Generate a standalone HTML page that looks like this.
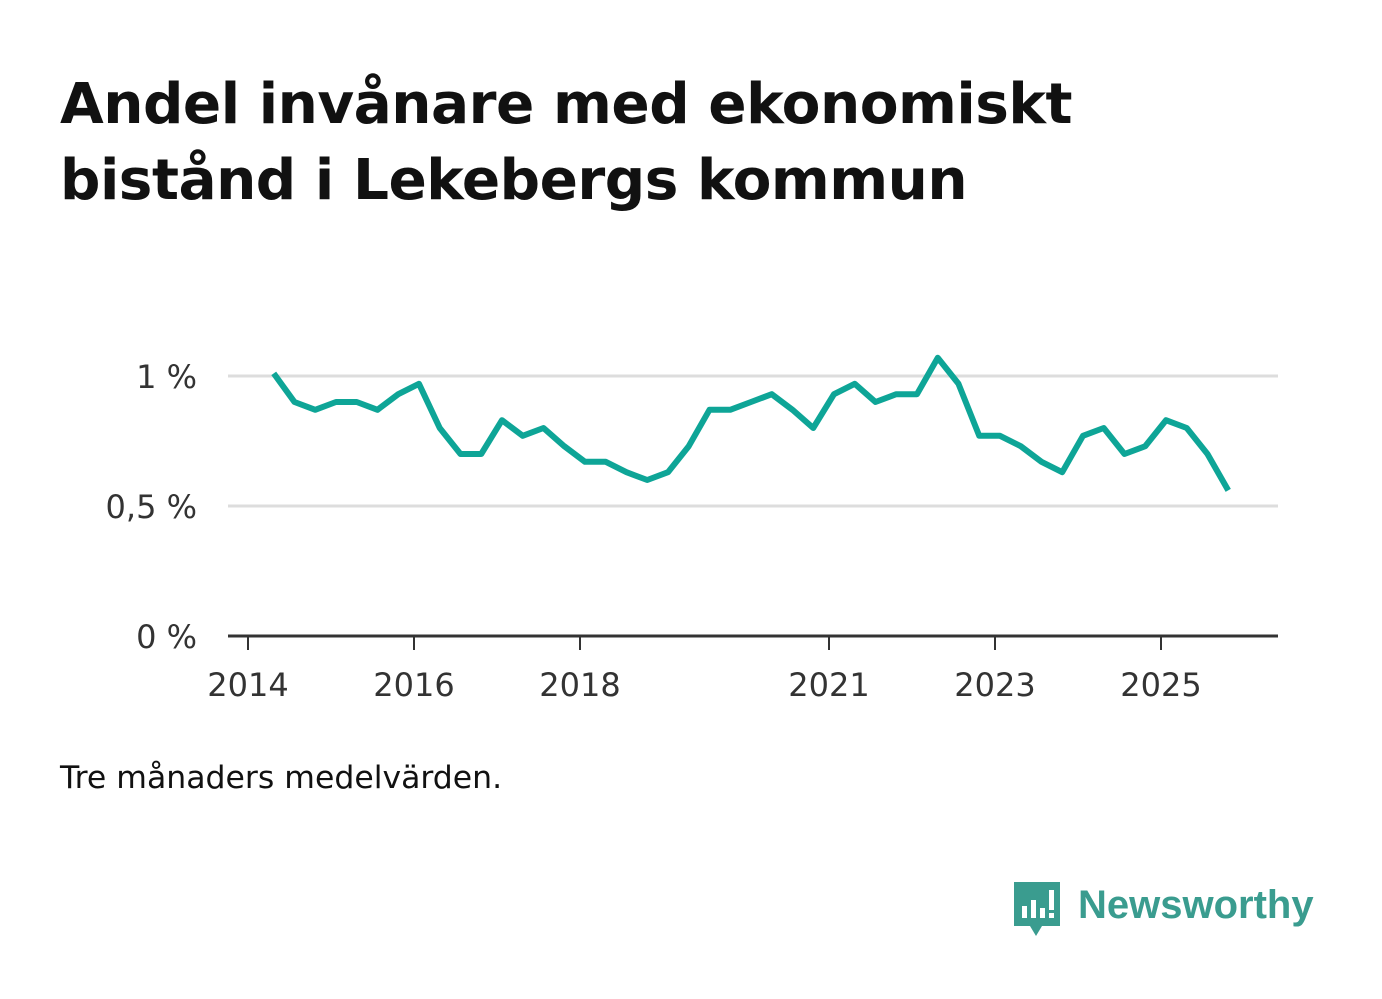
<!DOCTYPE html>
<html><head><meta charset="utf-8"><style>
body{margin:0;width:1382px;height:999px;background:#fff;font-family:"Liberation Sans","DejaVu Sans",sans-serif;overflow:hidden;position:relative}
h1{position:absolute;left:60px;top:67px;margin:0;font-size:56.5px;line-height:76px;font-weight:bold;color:#111;font-family:"DejaVu Sans","Liberation Sans",sans-serif;letter-spacing:-0.5px}
.note{position:absolute;left:60px;top:760px;font-size:31.5px;color:#111;font-family:"DejaVu Sans",sans-serif}
</style></head><body>
<h1>Andel invånare med ekonomiskt<br>bistånd i Lekebergs kommun</h1>
<svg id="chart" width="1382" height="999" style="position:absolute;left:0;top:0" font-family="DejaVu Sans, Liberation Sans, sans-serif"></svg>
<div class="note">Tre månaders medelvärden.</div>
<div style="position:absolute;left:1012px;top:878px;">
<svg width="310" height="62"><path d="M2 4h46v44H30l-6 10-6-10H2z" fill="#3a9c8f"/>
<rect x="10" y="28" width="5" height="12" fill="#fff"/><rect x="19" y="22" width="5" height="18" fill="#fff"/><rect x="28" y="30" width="5" height="10" fill="#fff"/><rect x="37" y="12" width="5" height="20" fill="#fff"/><rect x="37" y="35" width="5" height="5" fill="#fff"/>
<text x="66" y="40" font-size="40" font-weight="bold" fill="#3a9c8f" font-family="Liberation Sans, sans-serif">Newsworthy</text></svg></div>
<script>
const years=[2014,2016,2018,2021,2023,2025];
const yTicks=[0,0.5,1];
const yLabels=["0 %","0,5 %","1 %"];
const startYear=2014.31;
const values=[1.01,0.90,0.87,0.90,0.90,0.87,0.93,0.97,0.80,0.70,0.70,0.83,0.77,0.80,0.73,0.67,0.67,0.63,0.60,0.63,0.73,0.87,0.87,0.90,0.93,0.87,0.80,0.93,0.97,0.90,0.93,0.93,1.07,0.97,0.77,0.77,0.73,0.67,0.63,0.77,0.80,0.70,0.73,0.83,0.80,0.70,0.56];
const svg=document.getElementById('chart');
const NS='http://www.w3.org/2000/svg';
const x=t=>248+83*(t-2014);
const y=v=>636-260*v;
function mk(tag,attrs){const e=document.createElementNS(NS,tag);for(const k in attrs)e.setAttribute(k,attrs[k]);svg.appendChild(e);return e;}
yTicks.forEach((v,i)=>{
 if(v>0){const g=mk('line',{x1:228,x2:1278,y1:y(v),y2:y(v),stroke:'#ddd','stroke-width':3});
 
 }
 const t=mk('text',{x:197,y:y(v)+12,'text-anchor':'end','font-size':32,fill:'#333'});t.textContent=yLabels[i];
 
 
});
const ax=mk('line',{x1:228,x2:1278,y1:636,y2:636,stroke:'#333','stroke-width':3});


years.forEach(yr=>{
 mk('line',{x1:x(yr),x2:x(yr),y1:636,y2:650,stroke:'#333','stroke-width':2});
 const t=mk('text',{x:x(yr),y:696,'text-anchor':'middle','font-size':32,fill:'#333'});t.textContent=yr;
 
 
});
const pts=values.map((v,i)=>x(startYear+i*0.25)+','+y(v)).join(' ');
const line=mk('polyline',{points:pts,fill:'none',stroke:'#0ea597','stroke-width':6,'stroke-linejoin':'round'});


</script>
</body></html>
